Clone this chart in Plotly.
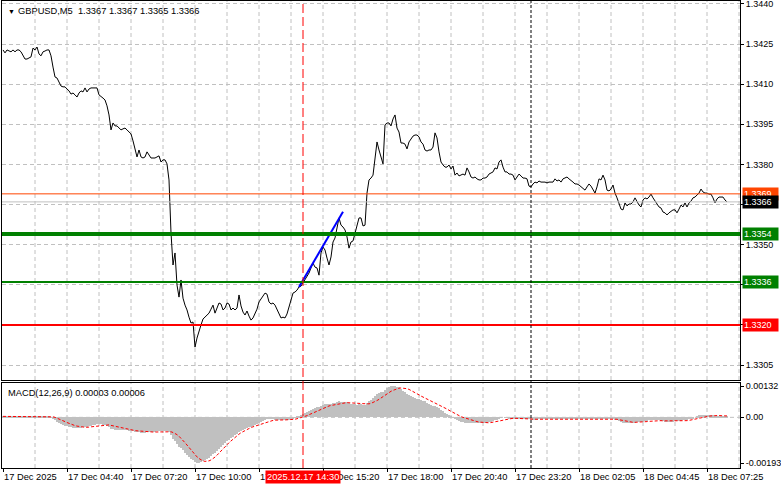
import plotly.graph_objects as go

# ---------------- data ----------------
close = [
    1.34228, 1.34217, 1.34228, 1.34224, 1.34221, 1.34228, 1.34221, 1.34228, 1.34228, 1.34221,
    1.34206, 1.34194, 1.34194, 1.34198, 1.34202, 1.34235, 1.34228, 1.34239, 1.34213, 1.34206,
    1.34221, 1.34224, 1.34228, 1.34228, 1.34206, 1.34164, 1.34127, 1.34123, 1.34108, 1.34093,
    1.34090, 1.34090, 1.34082, 1.34075, 1.34063, 1.34067, 1.34060, 1.34052, 1.34067, 1.34075,
    1.34071, 1.34086, 1.34071, 1.34082, 1.34086, 1.34086, 1.34086, 1.34086, 1.34060, 1.34052,
    1.34048, 1.34041, 1.34019, 1.33985, 1.33929, 1.33955, 1.33944, 1.33944, 1.33936, 1.33929,
    1.33933, 1.33936, 1.33929, 1.33921, 1.33914, 1.33888, 1.33854, 1.33828, 1.33854, 1.33828,
    1.33824, 1.33828, 1.33847, 1.33835, 1.33824, 1.33824, 1.33824, 1.33828, 1.33832, 1.33809,
    1.33817, 1.33817, 1.33802, 1.33742, 1.33544, 1.33424, 1.33469, 1.33349, 1.33304, 1.33368,
    1.33300, 1.33274, 1.33256, 1.33229, 1.33207, 1.33211, 1.33117, 1.33151, 1.33181, 1.33200,
    1.33222, 1.33229, 1.33237, 1.33244, 1.33259, 1.33274, 1.33244, 1.33263, 1.33282, 1.33278,
    1.33256, 1.33263, 1.33282, 1.33278, 1.33256, 1.33263, 1.33256, 1.33263, 1.33312, 1.33271,
    1.33248, 1.33237, 1.33252, 1.33233, 1.33218, 1.33226, 1.33244, 1.33259, 1.33286, 1.33297,
    1.33312, 1.33319, 1.33315, 1.33286, 1.33278, 1.33282, 1.33274, 1.33259, 1.33244, 1.33226,
    1.33229, 1.33226, 1.33241, 1.33267, 1.33297, 1.33319, 1.33323, 1.33330, 1.33342, 1.33345,
    1.33357, 1.33368, 1.33379, 1.33394, 1.33413, 1.33431, 1.33416, 1.33413, 1.33386, 1.33469,
    1.33491, 1.33480, 1.33450, 1.33424, 1.33454, 1.33510, 1.33525, 1.33562, 1.33600, 1.33573,
    1.33566, 1.33555, 1.33529, 1.33487, 1.33510, 1.33514, 1.33544, 1.33570, 1.33600, 1.33600,
    1.33570, 1.33573, 1.33693, 1.33742, 1.33749, 1.33760, 1.33817, 1.33884, 1.33854, 1.33828,
    1.33802, 1.33948, 1.33955, 1.33955, 1.33944, 1.33970, 1.33985, 1.33936, 1.33921, 1.33880,
    1.33880, 1.33876, 1.33858, 1.33884, 1.33895, 1.33906, 1.33910, 1.33910, 1.33903, 1.33884,
    1.33876, 1.33854, 1.33850, 1.33854, 1.33854, 1.33865, 1.33918, 1.33899, 1.33847, 1.33809,
    1.33798, 1.33790, 1.33790, 1.33798, 1.33783, 1.33794, 1.33760, 1.33768, 1.33757, 1.33760,
    1.33764, 1.33760, 1.33787, 1.33772, 1.33753, 1.33749, 1.33753, 1.33746, 1.33742, 1.33742,
    1.33749, 1.33749, 1.33753, 1.33764, 1.33768, 1.33772, 1.33787, 1.33783, 1.33809, 1.33817,
    1.33790, 1.33772, 1.33772, 1.33764, 1.33764, 1.33760, 1.33742, 1.33753, 1.33764, 1.33757,
    1.33749, 1.33749, 1.33746, 1.33719, 1.33716, 1.33727, 1.33734, 1.33731, 1.33738, 1.33734,
    1.33734, 1.33734, 1.33731, 1.33734, 1.33734, 1.33734, 1.33746, 1.33738, 1.33742, 1.33734,
    1.33746, 1.33749, 1.33753, 1.33746, 1.33738, 1.33734, 1.33727, 1.33727, 1.33723, 1.33716,
    1.33708, 1.33704, 1.33716, 1.33727, 1.33719, 1.33704, 1.33693, 1.33716, 1.33746, 1.33742,
    1.33760, 1.33742, 1.33704, 1.33701, 1.33708, 1.33723, 1.33693, 1.33675, 1.33652, 1.33633,
    1.33630, 1.33656, 1.33645, 1.33652, 1.33652, 1.33660, 1.33675, 1.33660, 1.33648, 1.33641,
    1.33667, 1.33675, 1.33671, 1.33678, 1.33689, 1.33675, 1.33663, 1.33656, 1.33641, 1.33637,
    1.33622, 1.33619, 1.33611, 1.33619, 1.33626, 1.33630, 1.33630, 1.33619, 1.33633, 1.33648,
    1.33641, 1.33656, 1.33641, 1.33656, 1.33663, 1.33675, 1.33678, 1.33686, 1.33693, 1.33708,
    1.33697, 1.33693, 1.33693, 1.33689, 1.33689, 1.33675, 1.33656, 1.33671, 1.33678, 1.33678,
    1.33678, 1.33667, 1.33660,
]

macd_main = [
    0.00003, 0.00003, 0.00003, 0.00003, 0.00003, 0.00003, 0.00003, 0.00003, 0.00003, 0.00003,
    0.00003, 0.00002, 0.00002, 0.00002, 0.00003, 0.00004, 0.00004, 0.00004, 0.00003, 0.00003,
    0.00003, 0.00003, 0.00003, 0.00003, 0.00001, -0.00005, -0.00012, -0.00018, -0.00024, -0.00029,
    -0.00033, -0.00036, -0.00038, -0.00040, -0.00042, -0.00043, -0.00044, -0.00045, -0.00044, -0.00043,
    -0.00042, -0.00040, -0.00039, -0.00037, -0.00035, -0.00033, -0.00031, -0.00029, -0.00029, -0.00030,
    -0.00031, -0.00033, -0.00036, -0.00041, -0.00048, -0.00050, -0.00052, -0.00053, -0.00054, -0.00055,
    -0.00055, -0.00055, -0.00055, -0.00056, -0.00056, -0.00058, -0.00061, -0.00064, -0.00064, -0.00065,
    -0.00065, -0.00065, -0.00063, -0.00062, -0.00062, -0.00061, -0.00060, -0.00059, -0.00058, -0.00058,
    -0.00057, -0.00057, -0.00058, -0.00062, -0.00075, -0.00090, -0.00100, -0.00112, -0.00124, -0.00130,
    -0.00140, -0.00150, -0.00158, -0.00166, -0.00174, -0.00180, -0.00190, -0.00193, -0.00192, -0.00190,
    -0.00186, -0.00181, -0.00176, -0.00170, -0.00163, -0.00156, -0.00149, -0.00141, -0.00133, -0.00125,
    -0.00117, -0.00110, -0.00102, -0.00095, -0.00088, -0.00081, -0.00075, -0.00069, -0.00062, -0.00057,
    -0.00053, -0.00049, -0.00045, -0.00042, -0.00039, -0.00035, -0.00031, -0.00027, -0.00022, -0.00018,
    -0.00014, -0.00011, -0.00009, -0.00009, -0.00009, -0.00009, -0.00010, -0.00011, -0.00012, -0.00013,
    -0.00013, -0.00013, -0.00012, -0.00010, -0.00007, -0.00004, -0.00001, 0.00002, 0.00006, 0.00010,
    0.00014, 0.00018, 0.00022, 0.00026, 0.00030, 0.00035, 0.00038, 0.00042, 0.00044, 0.00049,
    0.00053, 0.00055, 0.00055, 0.00055, 0.00056, 0.00059, 0.00061, 0.00064, 0.00067, 0.00066,
    0.00066, 0.00065, 0.00063, 0.00060, 0.00058, 0.00056, 0.00055, 0.00054, 0.00055, 0.00055,
    0.00054, 0.00054, 0.00060, 0.00068, 0.00074, 0.00080, 0.00088, 0.00097, 0.00103, 0.00106,
    0.00108, 0.00117, 0.00124, 0.00129, 0.00131, 0.00132, 0.00132, 0.00130, 0.00127, 0.00120,
    0.00113, 0.00106, 0.00098, 0.00093, 0.00089, 0.00085, 0.00082, 0.00079, 0.00076, 0.00074,
    0.00071, 0.00067, 0.00062, 0.00057, 0.00052, 0.00048, 0.00047, 0.00045, 0.00040, 0.00033,
    0.00025, 0.00019, 0.00013, 0.00008, 0.00003, -0.00002, -0.00007, -0.00011, -0.00015, -0.00018,
    -0.00020, -0.00022, -0.00022, -0.00023, -0.00024, -0.00025, -0.00025, -0.00025, -0.00025, -0.00025,
    -0.00025, -0.00024, -0.00023, -0.00021, -0.00019, -0.00016, -0.00013, -0.00010, -0.00006, -0.00002,
    0.00000, -0.00001, -0.00002, -0.00003, -0.00004, -0.00004, -0.00006, -0.00006, -0.00005, -0.00006,
    -0.00006, -0.00007, -0.00007, -0.00009, -0.00011, -0.00011, -0.00010, -0.00010, -0.00009, -0.00009,
    -0.00008, -0.00008, -0.00008, -0.00007, -0.00007, -0.00007, -0.00006, -0.00006, -0.00006, -0.00006,
    -0.00006, -0.00006, -0.00006, -0.00007, -0.00007, -0.00007, -0.00008, -0.00008, -0.00008, -0.00008,
    -0.00009, -0.00009, -0.00009, -0.00008, -0.00008, -0.00008, -0.00009, -0.00008, -0.00006, -0.00006,
    -0.00005, -0.00005, -0.00006, -0.00007, -0.00007, -0.00007, -0.00010, -0.00013, -0.00017, -0.00021,
    -0.00023, -0.00024, -0.00024, -0.00024, -0.00024, -0.00024, -0.00022, -0.00021, -0.00020, -0.00019,
    -0.00018, -0.00016, -0.00015, -0.00013, -0.00011, -0.00010, -0.00010, -0.00011, -0.00013, -0.00015,
    -0.00017, -0.00019, -0.00020, -0.00020, -0.00019, -0.00018, -0.00017, -0.00017, -0.00016, -0.00014,
    -0.00013, -0.00011, -0.00010, -0.00008, -0.00006, -0.00003, 0.00000, 0.00004, 0.00008, 0.00010,
    0.00010, 0.00010, 0.00009, 0.00009, 0.00008, 0.00008, 0.00006, 0.00006, 0.00006, 0.00006,
    0.00005, 0.00004, 0.00003,
]

macd_signal = [
    0.00004, 0.00004, 0.00004, 0.00004, 0.00004, 0.00004, 0.00004, 0.00004, 0.00004, 0.00004,
    0.00004, 0.00004, 0.00004, 0.00004, 0.00004, 0.00004, 0.00004, 0.00004, 0.00004, 0.00004,
    0.00004, 0.00004, 0.00003, 0.00003, 0.00003, 0.00002, 0.00000, -0.00003, -0.00006, -0.00010,
    -0.00014, -0.00018, -0.00022, -0.00026, -0.00029, -0.00032, -0.00035, -0.00037, -0.00039, -0.00040,
    -0.00041, -0.00042, -0.00042, -0.00041, -0.00040, -0.00039, -0.00037, -0.00035, -0.00034, -0.00033,
    -0.00032, -0.00031, -0.00031, -0.00032, -0.00034, -0.00036, -0.00038, -0.00041, -0.00043, -0.00045,
    -0.00047, -0.00049, -0.00051, -0.00053, -0.00054, -0.00055, -0.00056, -0.00057, -0.00058, -0.00059,
    -0.00060, -0.00061, -0.00062, -0.00062, -0.00062, -0.00062, -0.00062, -0.00062, -0.00061, -0.00061,
    -0.00060, -0.00059, -0.00059, -0.00059, -0.00061, -0.00064, -0.00068, -0.00073, -0.00080, -0.00088,
    -0.00097, -0.00107, -0.00117, -0.00128, -0.00139, -0.00149, -0.00159, -0.00167, -0.00174, -0.00180,
    -0.00184, -0.00186, -0.00186, -0.00184, -0.00180, -0.00175, -0.00168, -0.00160, -0.00152, -0.00143,
    -0.00134, -0.00125, -0.00116, -0.00107, -0.00099, -0.00091, -0.00084, -0.00077, -0.00071, -0.00065,
    -0.00060, -0.00055, -0.00051, -0.00047, -0.00043, -0.00040, -0.00037, -0.00034, -0.00031, -0.00028,
    -0.00025, -0.00022, -0.00019, -0.00017, -0.00015, -0.00013, -0.00012, -0.00011, -0.00011, -0.00011,
    -0.00011, -0.00011, -0.00011, -0.00011, -0.00010, -0.00009, -0.00008, -0.00006, -0.00004, -0.00002,
    0.00001, 0.00004, 0.00007, 0.00011, 0.00015, 0.00019, 0.00023, 0.00027, 0.00031, 0.00035,
    0.00038, 0.00042, 0.00045, 0.00048, 0.00050, 0.00052, 0.00054, 0.00056, 0.00058, 0.00059,
    0.00060, 0.00061, 0.00062, 0.00062, 0.00062, 0.00062, 0.00061, 0.00060, 0.00059, 0.00058,
    0.00057, 0.00056, 0.00056, 0.00057, 0.00059, 0.00062, 0.00066, 0.00071, 0.00076, 0.00082,
    0.00087, 0.00093, 0.00099, 0.00105, 0.00110, 0.00114, 0.00118, 0.00121, 0.00123, 0.00124,
    0.00124, 0.00123, 0.00121, 0.00118, 0.00114, 0.00110, 0.00105, 0.00100, 0.00095, 0.00090,
    0.00086, 0.00082, 0.00078, 0.00074, 0.00070, 0.00066, 0.00062, 0.00058, 0.00054, 0.00050,
    0.00045, 0.00040, 0.00035, 0.00030, 0.00025, 0.00020, 0.00015, 0.00011, 0.00007, 0.00003,
    0.00000, -0.00003, -0.00006, -0.00009, -0.00012, -0.00014, -0.00016, -0.00018, -0.00020, -0.00021,
    -0.00022, -0.00023, -0.00023, -0.00023, -0.00022, -0.00021, -0.00020, -0.00018, -0.00016, -0.00014,
    -0.00012, -0.00010, -0.00008, -0.00006, -0.00005, -0.00004, -0.00004, -0.00004, -0.00005, -0.00005,
    -0.00005, -0.00006, -0.00006, -0.00007, -0.00007, -0.00008, -0.00008, -0.00009, -0.00009, -0.00009,
    -0.00009, -0.00009, -0.00008, -0.00008, -0.00008, -0.00008, -0.00007, -0.00007, -0.00007, -0.00007,
    -0.00006, -0.00006, -0.00006, -0.00006, -0.00006, -0.00007, -0.00007, -0.00007, -0.00007, -0.00008,
    -0.00008, -0.00008, -0.00008, -0.00008, -0.00008, -0.00008, -0.00008, -0.00008, -0.00008, -0.00007,
    -0.00007, -0.00007, -0.00007, -0.00006, -0.00006, -0.00006, -0.00007, -0.00008, -0.00010, -0.00012,
    -0.00014, -0.00016, -0.00018, -0.00019, -0.00020, -0.00021, -0.00021, -0.00021, -0.00021, -0.00021,
    -0.00020, -0.00019, -0.00018, -0.00017, -0.00016, -0.00015, -0.00014, -0.00014, -0.00014, -0.00014,
    -0.00015, -0.00015, -0.00016, -0.00017, -0.00017, -0.00017, -0.00017, -0.00017, -0.00017, -0.00016,
    -0.00016, -0.00015, -0.00014, -0.00013, -0.00011, -0.00009, -0.00007, -0.00005, -0.00003, -0.00001,
    0.00001, 0.00003, 0.00004, 0.00005, 0.00006, 0.00007, 0.00008, 0.00008, 0.00008, 0.00007,
    0.00007, 0.00006, 0.00006,
]
bars = list(range(len(close)))

tick_bars = [0, 32, 64, 96, 128, 160, 192, 224, 256, 288, 320, 352]
tick_labels = ["17 Dec 2025", "17 Dec 04:40", "17 Dec 07:20", "17 Dec 10:00", "17 Dec 12:40",
               "17 Dec 15:20", "17 Dec 18:00", "17 Dec 20:40", "17 Dec 23:20", "18 Dec 02:05",
               "18 Dec 04:45", "18 Dec 07:25"]
grid_bars = [16, 32, 48, 64, 80, 96, 112, 128, 144, 160, 176, 192, 208, 224, 240, 256,
             272, 288, 304, 320, 336, 352, 368]

price_ticks = [1.3305, 1.3320, 1.3335, 1.3350, 1.3365, 1.3380, 1.3395, 1.3410, 1.3425, 1.3440]
macd_ticks = [0.00132, 0.0, -0.00193]
macd_tick_text = ["0.00132", "0.00", "-0.00193"]

trend_bars = [148, 170]
trend_prices = [1.33342, 1.33623]

level_prices = [1.3369, 1.3366, 1.3354, 1.3336, 1.3320]
level_colors = ["#FF4500", "#C0C0C0", "#008000", "#008000", "#FF0000"]
level_widths = [1, 1, 4, 2, 2]
label_colors = ["#FF4500", "#000000", "#008000", "#008000", "#FF0000"]

event_bar = 150
event_label = "2025.12.17 14:30"
separator_bar = 264

title_text = "GBPUSD,M5  1.3367 1.3367 1.3365 1.3366"
macd_text = "MACD(12,26,9) 0.00003 0.00006"

FONT = "Liberation Sans"
FS = 9
GRID = "#C0C0C0"
GDASH = "4px,3px"

fig = go.Figure()
fig.add_trace(go.Scatter(x=bars, y=close, mode="lines", line=dict(color="black", width=1),
                         xaxis="x", yaxis="y", hoverinfo="skip"))
fig.add_trace(go.Scatter(x=trend_bars, y=trend_prices, mode="lines",
                         line=dict(color="#0000FF", width=2), xaxis="x", yaxis="y", hoverinfo="skip"))
fig.add_trace(go.Bar(x=bars, y=macd_main, marker=dict(color="#C0C0C0", line=dict(width=0)),
                     xaxis="x2", yaxis="y2", hoverinfo="skip"))
fig.add_trace(go.Scatter(x=bars, y=macd_signal, mode="lines",
                         line=dict(color="#FF0000", width=1, dash="3px,2px"),
                         xaxis="x2", yaxis="y2", hoverinfo="skip"))

shapes = []
for gb in grid_bars:
    for yr in ("y domain", "y2 domain"):
        shapes.append(dict(type="line", xref="x", yref=yr, x0=gb, x1=gb, y0=0, y1=1,
                           line=dict(color=GRID, width=1, dash=GDASH), layer="below"))
shapes.append(dict(type="line", xref="x2 domain", yref="y2", x0=0, x1=1, y0=0, y1=0,
                   line=dict(color=GRID, width=1, dash=GDASH), layer="below"))
for p, c, w in zip(level_prices, level_colors, level_widths):
    shapes.append(dict(type="line", xref="x domain", yref="y", x0=0, x1=1, y0=p, y1=p,
                       line=dict(color=c, width=w), layer="above"))
shapes.append(dict(type="line", xref="x", yref="paper", x0=event_bar, x1=event_bar, y0=0, y1=1,
                   line=dict(color="#FF0000", width=1, dash="9px,4px"), layer="above"))
shapes.append(dict(type="line", xref="x", yref="paper", x0=separator_bar, x1=separator_bar, y0=0, y1=1,
                   line=dict(color="black", width=1, dash="3px,2px"), layer="above"))

annotations = [
    dict(xref="paper", yref="paper", x=0, y=1, xanchor="left", yanchor="top", xshift=4, yshift=-5,
         text="▼", showarrow=False, font=dict(family=FONT, size=7, color="black")),
    dict(xref="paper", yref="paper", x=0, y=1, xanchor="left", yanchor="top", xshift=14, yshift=-3,
         text=title_text, showarrow=False, font=dict(family=FONT, size=FS + 0.3, color="black")),
    dict(xref="paper", yref="y2 domain", x=0, y=1, xanchor="left", yanchor="top", xshift=4, yshift=-3,
         text=macd_text, showarrow=False, font=dict(family=FONT, size=FS + 0.3, color="black")),
    dict(xref="x", yref="paper", x=event_bar, y=0, xanchor="center", yanchor="top", yshift=-2,
         text=event_label, showarrow=False, bgcolor="#FF0000", borderpad=1,
         font=dict(family=FONT, size=FS + 0.3, color="white")),
]
for p, c in zip(level_prices, label_colors):
    annotations.append(dict(xref="paper", yref="y", x=1, y=p, xanchor="left", yanchor="middle",
                            xshift=2, text="%.4f" % p, showarrow=False, bgcolor=c, borderpad=1,
                            width=33, align="left",
                            font=dict(family=FONT, size=FS, color="white")))

axis_common = dict(showline=True, mirror=True, linecolor="black", linewidth=1, zeroline=False,
                   automargin=False)

fig.update_layout(
    width=781, height=489,
    margin=dict(l=2, r=41, t=1, b=21),
    paper_bgcolor="white", plot_bgcolor="white",
    showlegend=False, bargap=0,
    font=dict(family=FONT, size=FS, color="black"),
    xaxis=dict(domain=[0, 1], anchor="y", range=[-0.5, 368.5], showticklabels=False,
               ticks="", showgrid=False, **axis_common),
    xaxis2=dict(domain=[0, 1], anchor="y2", matches="x", range=[-0.5, 368.5],
                tickmode="array", tickvals=tick_bars, ticktext=tick_labels, tickangle=0,
                ticks="outside", ticklen=3, tickcolor="black", ticklabelposition="outside right",
                showgrid=False, tickfont=dict(family=FONT, size=FS + 0.3, color="black"), **axis_common),
    yaxis=dict(domain=[0.1884, 1], anchor="x", side="right", range=[1.32994, 1.34411],
               tickmode="array", tickvals=price_ticks, ticktext=["%.4f" % v for v in price_ticks],
               ticks="outside", ticklen=3, tickcolor="black", ticklabeloverflow="allow",
               showgrid=True, gridcolor=GRID, griddash=GDASH,
               tickfont=dict(family=FONT, size=FS, color="black"), **axis_common),
    yaxis2=dict(domain=[0, 0.182], anchor="x2", side="right", range=[-0.00214, 0.00145],
                tickmode="array", tickvals=macd_ticks, ticktext=macd_tick_text,
                ticks="outside", ticklen=3, tickcolor="black", showgrid=False,
                ticklabeloverflow="allow",
                tickfont=dict(family=FONT, size=FS, color="black"), **axis_common),
    shapes=shapes,
    annotations=annotations,
)

fig.write_html("out.html", config={"displayModeBar": False},
               post_script="document.body.style.margin='0';document.body.style.padding='0';"
                           "document.documentElement.style.overflow='hidden';")
